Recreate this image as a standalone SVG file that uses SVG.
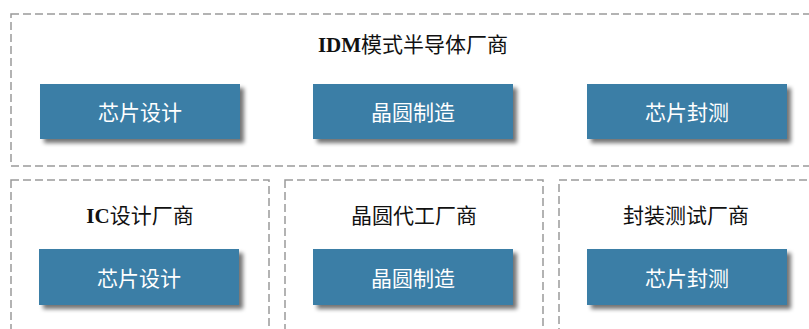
<svg xmlns="http://www.w3.org/2000/svg" width="809" height="329" viewBox="0 0 809 329">
<defs>
<filter id="sh" x="-10%" y="-20%" width="130%" height="160%">
<feGaussianBlur in="SourceAlpha" stdDeviation="2"/>
<feOffset dx="4" dy="4" result="o"/>
<feComponentTransfer><feFuncA type="linear" slope="0.55"/></feComponentTransfer>
<feMerge><feMergeNode/><feMergeNode in="SourceGraphic"/></feMerge>
</filter>
</defs>
<style>
.frame{fill:none;stroke:#9a9a9a;stroke-width:1.5;stroke-dasharray:8 4}
.box{fill:#3b7ea6;filter:url(#sh)}
.bt{fill:#fff;font-family:"Liberation Serif","Noto Sans CJK SC",serif;font-size:21px;text-anchor:middle}
.tt{fill:#111;font-family:"Liberation Serif","Noto Sans CJK SC",serif;font-size:21px;text-anchor:middle}
.b{font-weight:bold}
</style>
<rect width="809" height="329" fill="#fff"/>
<g id="idm">
<rect class="frame" x="11" y="14" width="810" height="152"/>
<text class="tt" x="413" y="52"><tspan class="b">IDM</tspan>模式半导体厂商</text>
</g>
<g id="idm-design"><rect class="box" x="40" y="84" width="200" height="55"/><text class="bt" x="140" y="120">芯片设计</text></g>
<g id="idm-fab"><rect class="box" x="313" y="84" width="200" height="55"/><text class="bt" x="413" y="120">晶圆制造</text></g>
<g id="idm-test"><rect class="box" x="587" y="84" width="200" height="55"/><text class="bt" x="687" y="120">芯片封测</text></g>
<g id="ic">
<rect class="frame" x="11" y="180" width="258" height="160"/>
<text class="tt" x="140" y="223"><tspan class="b">IC</tspan>设计厂商</text>
</g>
<g id="ic-design"><rect class="box" x="39" y="249" width="200" height="56"/><text class="bt" x="139" y="286">芯片设计</text></g>
<g id="foundry">
<rect class="frame" x="285" y="180" width="258" height="160"/>
<text class="tt" x="414" y="223">晶圆代工厂商</text>
</g>
<g id="foundry-fab"><rect class="box" x="313" y="249" width="200" height="56"/><text class="bt" x="413" y="286">晶圆制造</text></g>
<g id="osat">
<rect class="frame" x="559" y="180" width="260" height="160"/>
<text class="tt" x="686" y="223">封装测试厂商</text>
</g>
<g id="osat-test"><rect class="box" x="587" y="249" width="200" height="56"/><text class="bt" x="687" y="286">芯片封测</text></g>
<g id="connectors"></g>
</svg>
